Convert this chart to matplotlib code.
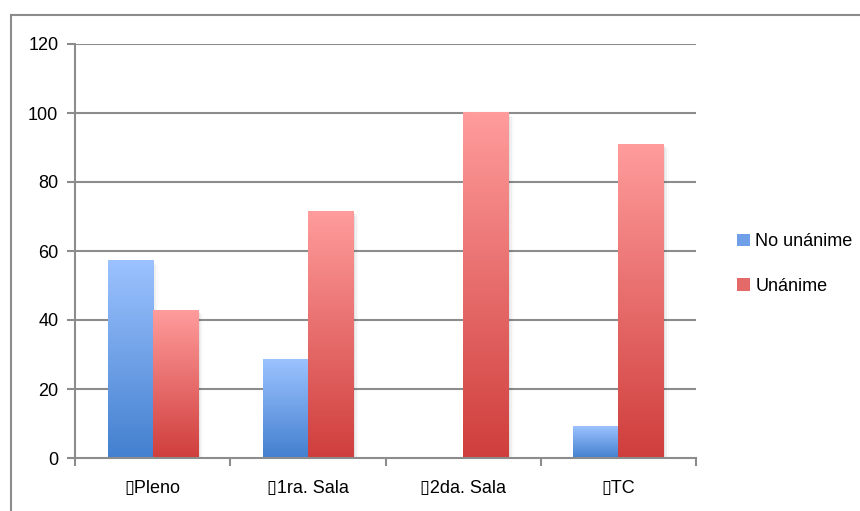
import numpy as np
import matplotlib
matplotlib.use("Agg")
import matplotlib.pyplot as plt
from matplotlib.colors import LinearSegmentedColormap
from matplotlib.lines import Line2D
from matplotlib.patches import Rectangle

plt.rcParams["font.family"] = ["Liberation Sans Narrow", "Liberation Sans", "DejaVu Sans"]

categories = ["\u25afPleno", "\u25af1ra. Sala", "\u25af2da. Sala", "\u25afTC"]
no_unanime = [57.14, 28.57, 0.0, 9.09]
unanime = [42.86, 71.43, 100.0, 90.91]
series_names = ["No unánime", "Unánime"]
y_ticks = [0, 20, 40, 60, 80, 100, 120]

blue_cmap = LinearSegmentedColormap.from_list("blue", ["#4380cf", "#9cc2ff"])
red_cmap = LinearSegmentedColormap.from_list("red", ["#cf3e3c", "#ff9c9c"])

fig = plt.figure(figsize=(8.6, 5.11), dpi=100)
ax = fig.add_axes([75 / 860, 53 / 511, 621 / 860, 414 / 511])

grid_color = "#8c8c8c"
bar_w = 0.29
grad = np.linspace(0, 1, 256).reshape(-1, 1)


def gradient_bar(x_center, height, cmap):
    if height <= 0:
        return
    x0, x1 = x_center - bar_w / 2, x_center + bar_w / 2
    # soft shadow
    for k, a in enumerate([0.06, 0.04, 0.02]):
        d = 0.012 * (k + 1)
        ax.add_patch(Rectangle((x0 + d, -0.4 * (k + 1)), bar_w, height, facecolor="black",
                               alpha=a, edgecolor="none", zorder=2))
    ax.imshow(grad, cmap=cmap, origin="lower", aspect="auto",
              extent=[x0, x1, 0, height], zorder=3, interpolation="bilinear")


x = np.arange(len(categories))
for i in range(len(categories)):
    gradient_bar(x[i] - bar_w / 2, no_unanime[i], blue_cmap)
    gradient_bar(x[i] + bar_w / 2, unanime[i], red_cmap)

ax.set_xlim(-0.5, len(categories) - 0.5)
ax.set_ylim(0, 120)
ax.set_yticks(y_ticks)
ax.set_yticklabels([str(v) for v in y_ticks], fontsize=13)
ax.set_xticks(x)
ax.set_xticklabels(categories, fontsize=13)
ax.set_xticks(np.arange(len(categories) + 1) - 0.5, minor=True)
ax.tick_params(axis="x", which="major", length=0, pad=16)
ax.tick_params(axis="x", which="minor", length=6, color=grid_color, width=1.5)
ax.tick_params(axis="y", length=6, color=grid_color, width=1.5, pad=6)

for y in y_ticks[1:]:
    ax.axhline(y, color=grid_color, linewidth=1.5, zorder=1)

for side in ["top", "right"]:
    ax.spines[side].set_visible(False)
for side in ["left", "bottom"]:
    ax.spines[side].set_color(grid_color)
    ax.spines[side].set_linewidth(1.5)
    ax.spines[side].set_zorder(4)

# legend
handles = [Rectangle((0, 0), 1, 1, facecolor="#6f9fe6", edgecolor="none"),
           Rectangle((0, 0), 1, 1, facecolor="#e46a69", edgecolor="none")]
fig.legend(handles, series_names, loc="center left", bbox_to_anchor=(721 / 860, 1 - 264 / 511),
           frameon=False, fontsize=13, handlelength=0.7, handleheight=0.7,
           handletextpad=0.3, labelspacing=1.5)

# outer frame (top and left edges visible)
fig.add_artist(Line2D([11 / 860, 1.0], [1 - 15 / 511, 1 - 15 / 511], transform=fig.transFigure,
                      color=grid_color, linewidth=1.5))
fig.add_artist(Line2D([11 / 860, 11 / 860], [0, 1 - 15 / 511], transform=fig.transFigure,
                      color=grid_color, linewidth=1.5))

fig.savefig("out.png", dpi=100)
